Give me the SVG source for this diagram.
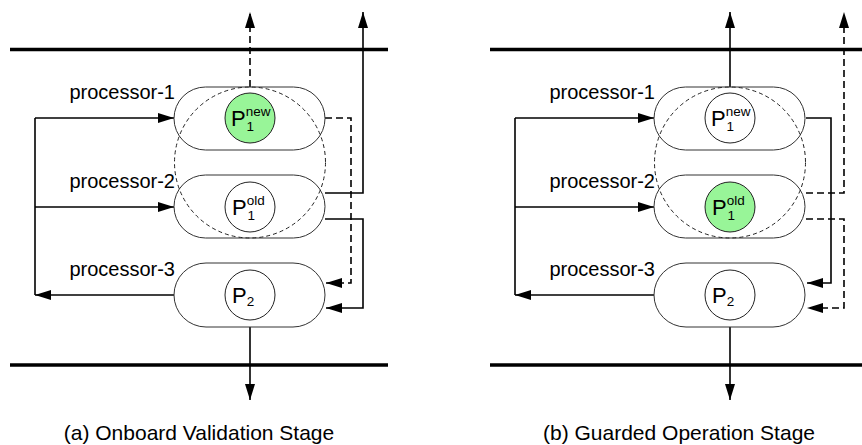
<svg xmlns="http://www.w3.org/2000/svg" width="862" height="445" viewBox="0 0 862 445">
<defs>
<marker id="ah" markerUnits="userSpaceOnUse" markerWidth="16" markerHeight="10" refX="16" refY="5" orient="auto">
<path d="M0,0 L16,5 L0,10 z" fill="#000"/>
</marker>
<style>
.bus{stroke:#000;stroke-width:3.5;fill:none}
.proc{fill:#fff;stroke:#333;stroke-width:1}
.pc{fill:#fff;stroke:#222;stroke-width:1}
.green{fill:#98f598}
.grp{fill:none;stroke:#222;stroke-width:1;stroke-dasharray:4,3}
.c{fill:none;stroke:#000;stroke-width:1.6}
.d{fill:none;stroke:#000;stroke-width:1.6;stroke-dasharray:7,4}
.arr{marker-end:url(#ah)}
text{font-family:"Liberation Sans",Arial,sans-serif;fill:#000}
.lbl{font-size:20px;text-anchor:end}
.big{font-size:22px}
.sm{font-size:13.5px}
.cap{font-size:21px;text-anchor:middle}
</style>
</defs>

<!-- Panel (a) -->
<g id="panel-a">
<g id="a-buses">
<line class="bus" x1="10" y1="49.5" x2="388" y2="49.5"/>
<line class="bus" x1="10" y1="365" x2="388" y2="365"/>
</g>
<g id="a-connectors">
<path class="d arr" d="M250,87 V12"/>
<path class="c arr" d="M325,193 H363 V12"/>
<path class="d arr" d="M325,118 H351 V283 H326"/>
<path class="c arr" d="M325,219 H363 V308 H326"/>
<path class="c" d="M35,118 V295"/>
<path class="c arr" d="M35,118 H174"/>
<path class="c arr" d="M35,207 H174"/>
<path class="c arr" d="M174,295 H35"/>
<path class="c arr" d="M250,327 V400"/>
</g>
<g id="a-processor-1">
<rect class="proc" x="174" y="87" width="151" height="63" rx="31.5"/>
<text class="lbl" x="175" y="99">processor-1</text>
<circle class="pc green" cx="250" cy="118" r="25"/>
<text x="231" y="126"><tspan class="big">P</tspan><tspan class="sm" dy="-10.5">new</tspan><tspan class="sm" x="246.5" dy="15">1</tspan></text>
</g>
<g id="a-processor-2">
<rect class="proc" x="174" y="175" width="151" height="63" rx="31.5"/>
<text class="lbl" x="175" y="188">processor-2</text>
<circle class="pc" cx="250" cy="207" r="25"/>
<text x="232" y="215"><tspan class="big">P</tspan><tspan class="sm" dy="-10.5">old</tspan><tspan class="sm" x="247.5" dy="15">1</tspan></text>
</g>
<g id="a-processor-3">
<rect class="proc" x="174" y="263" width="151" height="64" rx="32"/>
<text class="lbl" x="175" y="276">processor-3</text>
<circle class="pc" cx="250" cy="295" r="25"/>
<text x="232" y="303"><tspan class="big">P</tspan><tspan class="sm" dy="3">2</tspan></text>
</g>
<circle id="a-group" class="grp" cx="250" cy="162.5" r="75.5"/>
<text class="cap" x="199" y="440">(a) Onboard Validation Stage</text>
</g>

<!-- Panel (b) -->
<g id="panel-b">
<g id="b-buses">
<line class="bus" x1="490" y1="49.5" x2="862" y2="49.5"/>
<line class="bus" x1="490" y1="365" x2="862" y2="365"/>
</g>
<g id="b-connectors">
<path class="c arr" d="M730,87 V12"/>
<path class="d arr" d="M806,193 H844 V12"/>
<path class="c arr" d="M806,118 H831 V283 H807"/>
<path class="d arr" d="M806,219 H844 V308 H807"/>
<path class="c" d="M515,118 V295"/>
<path class="c arr" d="M515,118 H654"/>
<path class="c arr" d="M515,207 H654"/>
<path class="c arr" d="M654,295 H515"/>
<path class="c arr" d="M730,327 V400"/>
</g>
<g id="b-processor-1">
<rect class="proc" x="654" y="87" width="151" height="63" rx="31.5"/>
<text class="lbl" x="655" y="99">processor-1</text>
<circle class="pc" cx="730" cy="118" r="25"/>
<text x="711" y="126"><tspan class="big">P</tspan><tspan class="sm" dy="-10.5">new</tspan><tspan class="sm" x="726.5" dy="15">1</tspan></text>
</g>
<g id="b-processor-2">
<rect class="proc" x="654" y="175" width="151" height="63" rx="31.5"/>
<text class="lbl" x="655" y="188">processor-2</text>
<circle class="pc green" cx="730" cy="207" r="25"/>
<text x="712" y="215"><tspan class="big">P</tspan><tspan class="sm" dy="-10.5">old</tspan><tspan class="sm" x="727.5" dy="15">1</tspan></text>
</g>
<g id="b-processor-3">
<rect class="proc" x="654" y="263" width="151" height="64" rx="32"/>
<text class="lbl" x="655" y="276">processor-3</text>
<circle class="pc" cx="730" cy="295" r="25"/>
<text x="712" y="303"><tspan class="big">P</tspan><tspan class="sm" dy="3">2</tspan></text>
</g>
<circle id="b-group" class="grp" cx="730" cy="162.5" r="75.5"/>
<text class="cap" x="679" y="440">(b) Guarded Operation Stage</text>
</g>
</svg>
